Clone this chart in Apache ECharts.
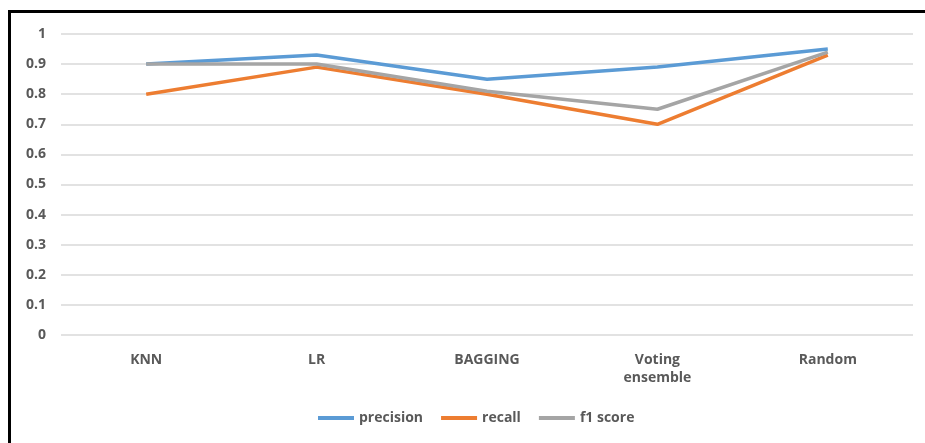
<!DOCTYPE html>
<html>
<head>
<meta charset="utf-8">
<script src="https://cdn.jsdelivr.net/npm/echarts@6/dist/echarts.min.js"></script>
<style>
  html, body { margin: 0; padding: 0; background: #fff; }
  #frame { position: absolute; left: 8px; top: 10px; width: 917px; height: 433px;
           border-top: 3px solid #000; border-left: 3px solid #000; box-sizing: border-box; }
  #charts_box { position: absolute; left: 0; top: 0; width: 925px; height: 443px; }
</style>
</head>
<body>
<div id="frame"></div>
<div id="charts_box"></div>
<script>
var categories = ['KNN', 'LR', 'BAGGING', 'Voting ensemble', 'Random'];
var precision = [0.90, 0.93, 0.85, 0.89, 0.95];
var recall = [0.80, 0.89, 0.80, 0.70, 0.93];
var f1score = [0.90, 0.90, 0.81, 0.75, 0.94];

window.onload = function(){
    var myChart = echarts.init(document.getElementById("charts_box"));
    var txt = { color: '#595959', fontFamily: 'Open Sans', fontWeight: 'bold', fontSize: 14 };

    function line(name, data, color){
        return {
            name: name,
            type: 'line',
            data: data,
            symbol: 'none',
            color: color,
            lineStyle: { width: 3.5, color: color },
            z: name === 'f1 score' ? 3 : 2
        };
    }

    var option = {
        animation: false,
        grid: { left: 61, right: 12, top: 34, bottom: 108 },
        legend: {
            left: 313,
            bottom: 13,
            icon: 'rect',
            itemWidth: 36,
            itemHeight: 4,
            itemGap: 18,
            textStyle: txt,
            data: ['precision', 'recall', 'f1 score']
        },
        xAxis: {
            type: 'category',
            boundaryGap: true,
            data: categories,
            axisLine: { show: false },
            axisTick: { show: false },
            axisLabel: Object.assign({
                margin: 16,
                lineHeight: 18,
                formatter: function(v){ return v.replace(' ', '\n'); }
            }, txt)
        },
        yAxis: {
            type: 'value',
            min: 0,
            max: 1,
            interval: 0.1,
            axisLine: { show: false },
            axisTick: { show: false },
            splitLine: { lineStyle: { color: '#D9D9D9', width: 1.5 } },
            axisLabel: Object.assign({ margin: 15 }, txt)
        },
        series: [
            line('precision', precision, '#5B9BD5'),
            line('recall', recall, '#ED7D31'),
            line('f1 score', f1score, '#A5A5A5')
        ]
    };
    myChart.setOption(option);
};
</script>
</body>
</html>
